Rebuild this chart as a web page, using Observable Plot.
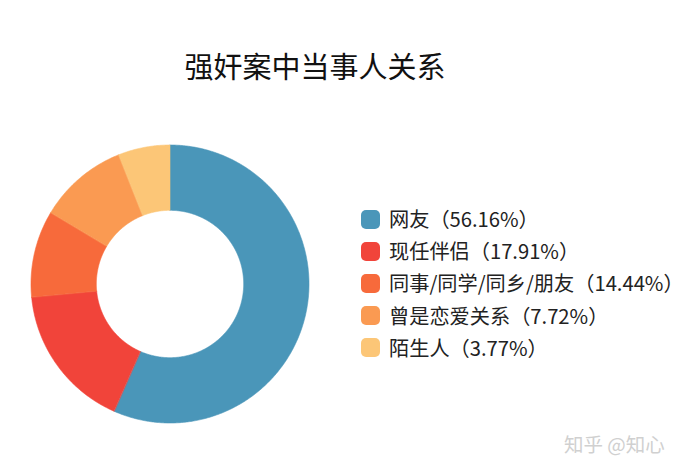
<!DOCTYPE html>
<html>
<head>
<meta charset="utf-8">
<script src="https://cdn.jsdelivr.net/npm/d3@7"></script>
<script src="https://cdn.jsdelivr.net/npm/@observablehq/plot@0.6"></script>
<style>
  html, body { margin: 0; padding: 0; background: #fff; }
  #wrap { position: relative; width: 690px; height: 471px; overflow: hidden;
          font-family: "Noto Sans CJK SC", "Noto Sans", sans-serif; color: #222; }
  #title { position: absolute; left: 0; top: 44px; width: 630px; text-align: center;
           font-size: 29px; font-weight: 400; color: #111; line-height: 42px; }
  #chart { position: absolute; left: 0; top: 105px; }
  #legend { position: absolute; left: 361px; top: 203px; }
  .row { display: flex; align-items: center; height: 32.2px; }
  .sw { width: 19px; height: 19px; border-radius: 5px; margin-right: 9px; flex: none; }
  .lab { font-size: 20.2px; color: #222; white-space: nowrap; line-height: 24px; }
  #mark { position: absolute; left: 564px; top: 429px; font-size: 19.5px; color: #d0d0d0; white-space: nowrap; }
</style>
</head>
<body>
<div id="wrap">
  <div id="title">强奸案中当事人关系</div>
  <div id="chart"></div>
  <div id="legend"></div>
  <div id="mark">知乎 @知心</div>
</div>
<script>
// Categories in drawing order (clockwise from 12 o'clock)
const categories = ["网友", "现任伴侣", "同事/同学/同乡/朋友", "曾是恋爱关系", "陌生人"];
// Percentages printed in the legend
const legendPercents = ["56.16%", "17.91%", "14.44%", "7.72%", "3.77%"];
// Slice shares as drawn in the picture (percent of the ring)
const sliceShares = [56.6, 16.9, 10.1, 10.4, 6.0];
const colors = ["#4a96b9", "#f1443a", "#f76a3b", "#fa9a52", "#fcc677"];

const innerRatio = 0.53;

// Build ring-segment polygons from the shares
const total = d3.sum(sliceShares);
const points = [];
let acc = 0;
categories.forEach((cat, i) => {
  const a0 = acc / total * 2 * Math.PI;
  acc += sliceShares[i];
  const a1 = acc / total * 2 * Math.PI;
  const n = Math.max(4, Math.ceil((a1 - a0) / (Math.PI / 360)));
  for (let k = 0; k <= n; k++) {
    const a = a0 + (a1 - a0) * k / n;
    points.push({cat, x: Math.sin(a), y: Math.cos(a)});
  }
  for (let k = n; k >= 0; k--) {
    const a = a0 + (a1 - a0) * k / n;
    points.push({cat, x: innerRatio * Math.sin(a), y: innerRatio * Math.cos(a)});
  }
});

const chart = Plot.plot({
  width: 690,
  height: 366,
  marginLeft: 30.5,
  marginRight: 381.5,
  marginTop: 39.5,
  marginBottom: 48.5,
  x: {domain: [-1, 1], axis: null},
  y: {domain: [-1, 1], axis: null},
  color: {domain: categories, range: colors},
  marks: [
    Plot.line(points, {x: "x", y: "y", z: "cat", fill: "cat", stroke: "cat", strokeWidth: 0.6, curve: "linear-closed"})
  ]
});
document.getElementById("chart").appendChild(chart);

const color = chart.scale("color");
const legend = document.getElementById("legend");
categories.forEach((cat, i) => {
  const row = document.createElement("div");
  row.className = "row";
  const sw = document.createElement("div");
  sw.className = "sw";
  sw.style.background = color.apply(cat);
  const lab = document.createElement("div");
  lab.className = "lab";
  lab.textContent = `${cat}（${legendPercents[i]}）`;
  row.appendChild(sw);
  row.appendChild(lab);
  legend.appendChild(row);
});
</script>
</body>
</html>
